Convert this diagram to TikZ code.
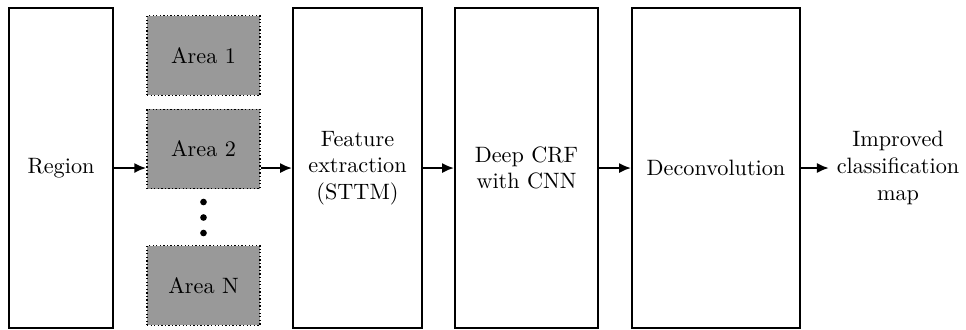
\documentclass[tikz,border=0pt]{standalone}
\usepackage{amsmath,amssymb}
\usepackage{tikz}
\usetikzlibrary{arrows.meta, positioning, calc}
\usepackage{xcolor}

\begin{document}
\begin{tikzpicture}[x=0.45pt, y=-0.45pt,
  block/.style={draw, thick, rectangle, minimum height=144pt, align=center},
  areabox/.style={draw, densely dotted, semithick, fill=black!40, rectangle, minimum width=50.85pt, minimum height=35.8pt},
  flow/.style={-{Latex[length=5.4pt, width=4.6pt]}, line width=1.3pt}]
  \useasboundingbox (0,0) rectangle (966,329);

  % Blocks
  \node[block, minimum width=46.8pt] (region) at (61, 168) {Region};
  \node[areabox] (area1) at (203.5, 55.5) {Area 1};
  \node[areabox] (area2) at (203.5, 149) {Area 2};
  \node[areabox] (areaN) at (203.5, 285.5) {Area N};
  \node[block, minimum width=58.05pt] (feature) at (357.5, 168) {Feature\\extraction\\(STTM)};
  \node[block, minimum width=64.35pt] (crf) at (526.5, 168) {Deep CRF\\with CNN};
  \node[block, minimum width=75.6pt] (deconv) at (716, 168) {Deconvolution};
  \node[align=center] (output) at (898, 168) {Improved\\classification\\map};

  % Dots between areas
  \foreach \y in {202, 217.5, 233}
    \fill (203.5, \y) circle (1.5pt);

  % Flow
  \draw[flow] (region.east) -- (region.east -| area2.west);
  \draw[flow] (feature.west -| area2.east) -- (feature.west);
  \draw[flow] (feature) -- (crf);
  \draw[flow] (crf) -- (deconv);
  \draw[flow] (deconv) -- (output);
\end{tikzpicture}
\end{document}
